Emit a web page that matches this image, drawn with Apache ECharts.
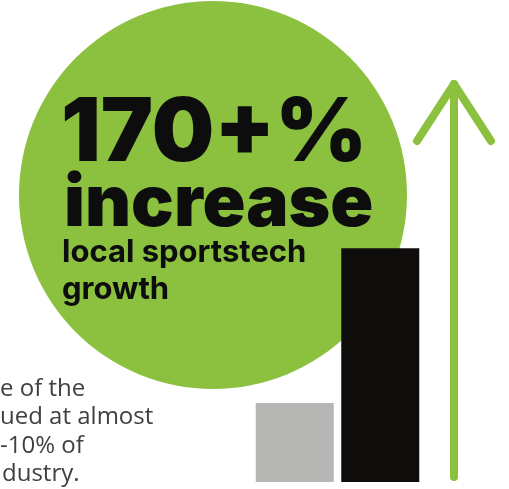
<!DOCTYPE html>
<html>
<head>
<meta charset="utf-8">
<script src="https://cdn.jsdelivr.net/npm/echarts@6/dist/echarts.min.js"></script>
<style>
  html, body { margin: 0; padding: 0; background: #ffffff; }
  #chart { width: 509px; height: 489px; }
</style>
</head>
<body>
<div id="chart"></div>
<script>
// Sportstech growth: market size before and after (relative index)
const periods = ['Before', 'Now'];
const growthIndex = [100, 296];
const barColors = ['#b6b7b5', '#0f0d0c'];

const headline = '170+%';
const subHeadline = 'increase';
const captionLines = ['local sportstech', 'growth'];
const noteLines = ['e of the', 'ued at almost', '-10% of', 'dustry.'];

const green = '#8bc13f';
const inkDark = '#0d0d0d';
const noteGrey = '#404040';

const chart = echarts.init(document.getElementById('chart'));

const graphics = [
  // big green disc behind the headline
  { type: 'circle', z: 0, shape: { cx: 213, cy: 195, r: 194 }, style: { fill: green } },
  // upward arrow
  { type: 'polyline', z: 1,
    shape: { points: [[454, 477], [454, 84]] },
    style: { stroke: green, lineWidth: 8, lineCap: 'round', fill: null } },
  { type: 'polyline', z: 1,
    shape: { points: [[417, 141], [454, 84], [491, 141]] },
    style: { stroke: green, lineWidth: 8, lineCap: 'round', lineJoin: 'round', fill: null } },
  // headline text
  { type: 'text', z: 100, left: 61, top: 91,
    style: { text: headline, fill: inkDark, font: '900 88px Inter' } },
  { type: 'text', z: 100, left: 64, top: 169,
    style: { text: subHeadline, fill: inkDark, font: '900 71px Inter' } },
  { type: 'text', z: 100, left: 62, top: 237,
    style: { text: captionLines[0], fill: inkDark, font: '700 31px Inter' } },
  { type: 'text', z: 100, left: 62, top: 274,
    style: { text: captionLines[1], fill: inkDark, font: '700 31px Inter' } }
];

noteLines.forEach(function (line, i) {
  graphics.push({
    type: 'text', z: 100, left: i === 3 ? 2 : 0, top: 377 + i * 28.5,
    style: { text: line, fill: noteGrey, font: '24px "Open Sans"' }
  });
});

chart.setOption({
  animation: false,
  grid: { left: 252, right: 86, top: 245, bottom: 7 },
  xAxis: {
    type: 'category', data: periods,
    axisLine: { show: false }, axisTick: { show: false }, axisLabel: { show: false }
  },
  yAxis: {
    type: 'value', min: 0, max: 300,
    splitLine: { show: false }, axisLine: { show: false }, axisTick: { show: false }, axisLabel: { show: false }
  },
  series: [{
    type: 'bar',
    z: 5,
    barWidth: 78,
    data: growthIndex.map(function (v, i) {
      return { value: v, itemStyle: { color: barColors[i] } };
    })
  }],
  graphic: graphics
});
</script>
</body>
</html>
